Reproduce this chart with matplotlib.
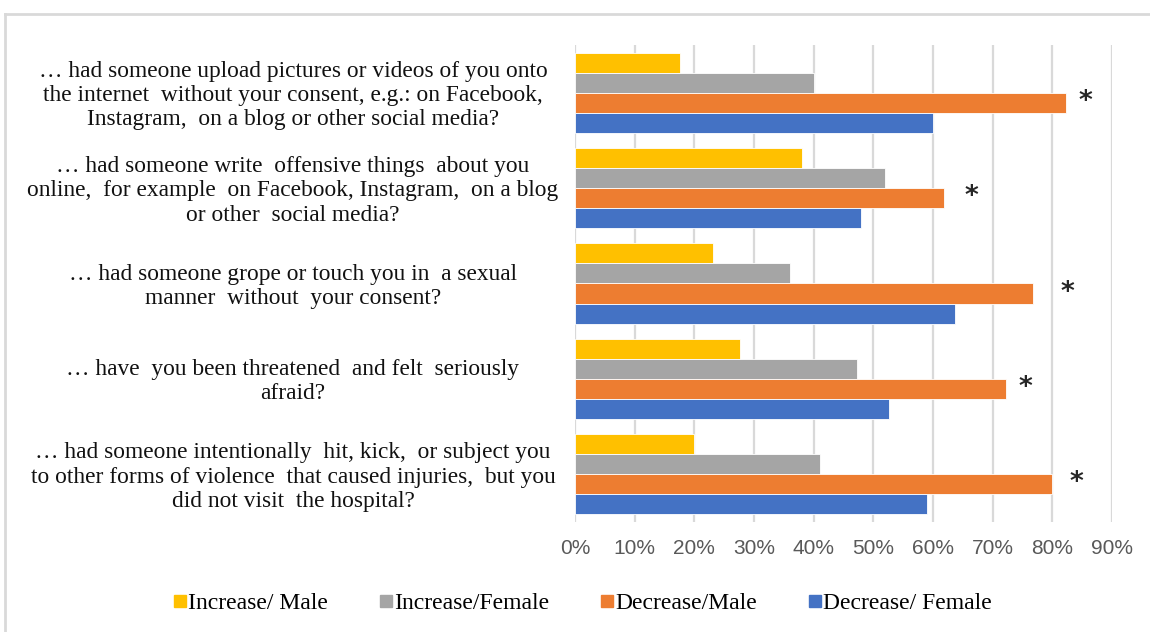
import matplotlib
matplotlib.use('Agg')
import matplotlib.pyplot as plt
import numpy as np
from matplotlib.lines import Line2D
from matplotlib.ticker import PercentFormatter

categories = [
    "… had someone upload pictures or videos of you onto\nthe internet  without your consent, e.g.: on Facebook,\nInstagram,  on a blog or other social media?",
    "… had someone write  offensive things  about you\nonline,  for example  on Facebook, Instagram,  on a blog\nor other  social media?",
    "… had someone grope or touch you in  a sexual\nmanner  without  your consent?",
    "… have  you been threatened  and felt  seriously\nafraid?",
    "… had someone intentionally  hit, kick,  or subject you\nto other forms of violence  that caused injuries,  but you\ndid not visit  the hospital?",
]
series_names = ["Increase/ Male", "Increase/Female", "Decrease/Male", "Decrease/ Female"]
increase_male = [17.6, 38.0, 23.2, 27.7, 20.0]
increase_female = [40.0, 51.9, 36.1, 47.2, 41.0]
decrease_male = [82.3, 61.9, 76.7, 72.3, 80.0]
decrease_female = [60.0, 48.0, 63.7, 52.7, 59.0]
star_x = [85.5, 66.5, 82.6, 75.5, 84.0]
ticks = [0, 10, 20, 30, 40, 50, 60, 70, 80, 90]

colors = ['#FFC000', '#A5A5A5', '#ED7D31', '#4472C4']
serif = 'Liberation Serif'

fig = plt.figure(figsize=(11.5, 6.32), dpi=100)
ax = fig.add_axes([575/1150, 1 - 522/632, (1112 - 575)/1150, (522 - 45)/632])

y = np.arange(len(categories))
h = 0.21
all_series = [increase_male, increase_female, decrease_male, decrease_female]
for i, (vals, c) in enumerate(zip(all_series, colors)):
    ax.barh(y + (i - 1.5) * h, vals, height=h, color=c, edgecolor='white',
            linewidth=0.6, zorder=3, label=series_names[i])

# significance markers
for yi, sx in zip(y, star_x):
    ax.text(sx, yi + 0.45 * h, '*', ha='center', va='center', fontsize=19,
            fontweight='bold', color='#262626', family='DejaVu Sans', zorder=4)

ax.set_ylim(len(categories) - 0.5, -0.5)
ax.set_xlim(0, 90)
ax.set_xticks(ticks)
ax.xaxis.set_major_formatter(PercentFormatter(decimals=0))
ax.grid(axis='x', color='#d9d9d9', linewidth=1.6, zorder=0)
for s in ax.spines.values():
    s.set_visible(False)
ax.tick_params(axis='x', length=0, pad=12, labelsize=15, labelcolor='#595959')
for lab in ax.get_xticklabels():
    lab.set_family('Liberation Sans')
ax.set_yticks(y)
ax.set_yticklabels([])
ax.tick_params(axis='y', length=0)

for yi, cat in zip(y, categories):
    ax.annotate(cat, xy=(0, yi), xycoords=('axes fraction', 'data'),
                xytext=(-(575 - 293) * 0.72, -2), textcoords='offset points',
                ha='center', va='center', multialignment='center',
                family=serif, fontsize=16.8, linespacing=1.2, color='#111111')

handles = [Line2D([0], [0], marker='s', linestyle='none', markersize=9,
                  markerfacecolor=c, markeredgecolor=c) for c in colors]
fig.legend(handles, series_names, loc='center', bbox_to_anchor=(583/1150, 1 - 603/632),
           ncol=4, frameon=False, handlelength=0.5, handletextpad=0.1,
           columnspacing=2.2, prop={'family': serif, 'size': 17})

# outer chart border (top and left visible)
fig.add_artist(Line2D([5/1150, 1], [1 - 14/632, 1 - 14/632], color='#d9d9d9', linewidth=2))
fig.add_artist(Line2D([5/1150, 5/1150], [0, 1 - 14/632], color='#d9d9d9', linewidth=2))

fig.savefig('out.png', dpi=100, facecolor='white')
